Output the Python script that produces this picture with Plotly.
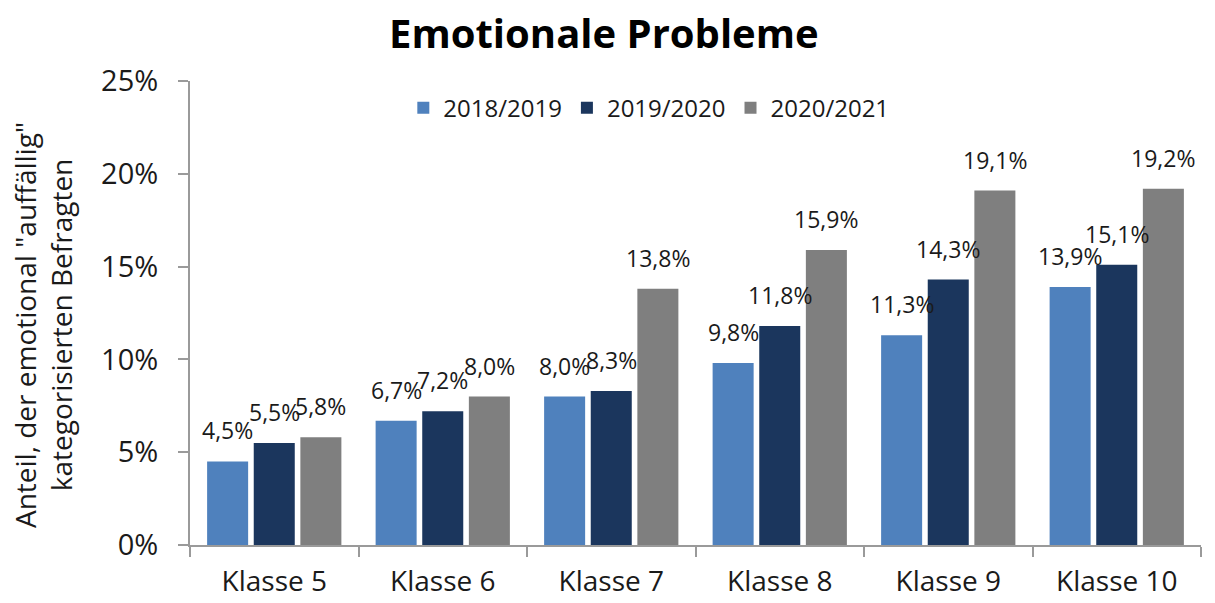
import plotly.graph_objects as go

categories = ["Klasse 5", "Klasse 6", "Klasse 7", "Klasse 8", "Klasse 9", "Klasse 10"]
series_names = ["2018/2019", "2019/2020", "2020/2021"]
values_2018_2019 = [4.5, 6.7, 8.0, 9.8, 11.3, 13.9]
values_2019_2020 = [5.5, 7.2, 8.3, 11.8, 14.3, 15.1]
values_2020_2021 = [5.8, 8.0, 13.8, 15.9, 19.1, 19.2]
colors = ["#4f81bd", "#1b365d", "#7f7f7f"]
y_ticks = [0, 5, 10, 15, 20, 25]

FONT = "Open Sans"
TEXT = "#1a1a1a"
AXIS = "#9a9a9a"
series_values = [values_2018_2019, values_2019_2020, values_2020_2021]

W, H = 1215, 603
M = dict(l=190, r=14, t=81, b=58)
BARGAP = 0.17
BARGROUPGAP = 0.12

# pixel geometry of the category slots, used to centre value labels over bars
plot_w = W - M["l"] - M["r"]
cat_w = plot_w / len(categories)
slot_w = cat_w * (1 - BARGAP) / len(series_names)


def fmt(v):
    return f"{v:.1f}".replace(".", ",") + "%"


fig = go.Figure()
for name, vals, col in zip(series_names, series_values, colors):
    fig.add_trace(go.Bar(
        x=categories,
        y=vals,
        name=name,
        marker=dict(color=col, line=dict(width=0)),
        hoverinfo="skip",
    ))

annotations = []
for j, vals in enumerate(series_values):
    dx = (j - (len(series_names) - 1) / 2) * slot_w
    for cat, v in zip(categories, vals):
        annotations.append(dict(
            x=cat, y=v, xref="x", yref="y",
            text=fmt(v), showarrow=False,
            xanchor="center", yanchor="bottom",
            xshift=dx, yshift=13,
            font=dict(family=FONT, size=23, color=TEXT),
        ))

annotations.append(dict(
    text='Anteil, der emotional "auffällig"<br>kategorisierten Befragten',
    xref="paper", yref="paper",
    x=(43 - M["l"]) / plot_w, y=0.474,
    xanchor="center", yanchor="middle",
    textangle=-90,
    showarrow=False,
    font=dict(family=FONT, size=28, color=TEXT),
))

fig.update_layout(
    width=W,
    height=H,
    margin=M,
    paper_bgcolor="white",
    plot_bgcolor="white",
    barmode="group",
    bargap=BARGAP,
    bargroupgap=BARGROUPGAP,
    font=dict(family=FONT, color=TEXT),
    title=dict(
        text="<b>Emotionale Probleme</b>",
        x=0.497, xref="container", xanchor="center",
        y=1 - 34 / H, yanchor="middle",
        font=dict(family=FONT, size=40, color="#000000"),
    ),
    legend=dict(
        orientation="h",
        x=0.211, xanchor="left",
        y=0.99, yanchor="top",
        font=dict(family=FONT, size=24, color=TEXT),
        itemwidth=30,
        traceorder="normal",
        bgcolor="rgba(0,0,0,0)",
    ),
    xaxis=dict(
        showline=True, linecolor=AXIS, linewidth=2,
        ticks="outside", ticklen=10, tickcolor=AXIS, tickwidth=2,
        tickson="boundaries",
        tickfont=dict(family=FONT, size=28, color=TEXT),
        ticklabelstandoff=10,
        showgrid=False,
        automargin=False,
    ),
    yaxis=dict(
        range=[0, 25],
        tickvals=y_ticks,
        ticktext=[f"{t}%" for t in y_ticks],
        showline=True, linecolor=AXIS, linewidth=2,
        ticks="outside", ticklen=10, tickcolor=AXIS, tickwidth=2,
        tickfont=dict(family=FONT, size=29, color=TEXT),
        showgrid=False, zeroline=False,
        ticklabelstandoff=14,
        automargin=False,
    ),
    annotations=annotations,
)

fig.write_html("out.html")
